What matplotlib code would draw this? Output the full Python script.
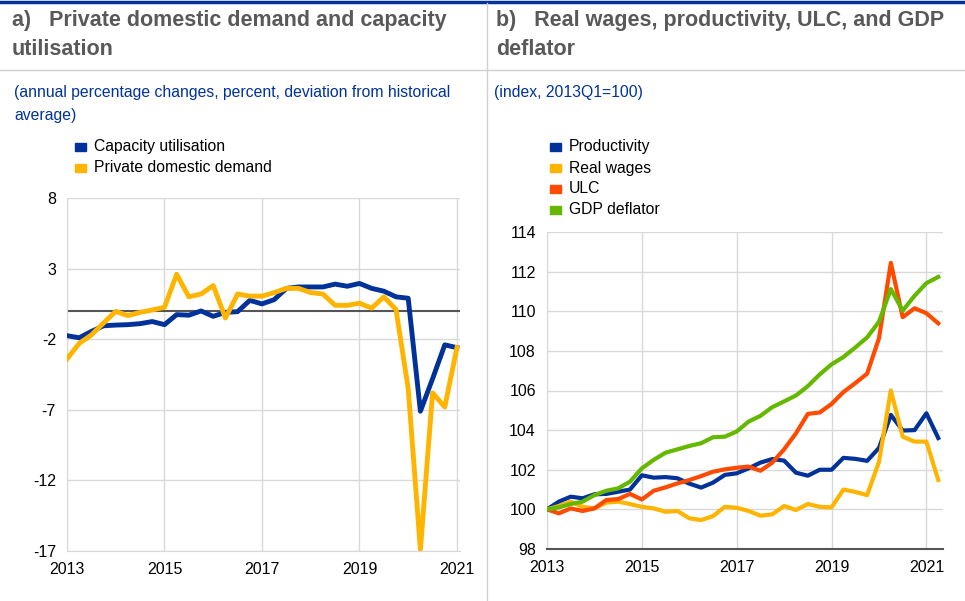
import matplotlib
matplotlib.use('Agg')
import matplotlib.pyplot as plt
import matplotlib.patches as mpatches
import numpy as np

plt.rcParams['font.family'] = ['Liberation Sans', 'DejaVu Sans']
plt.rcParams['axes.unicode_minus'] = False

# Panel a: quarterly, 2013Q1-2021Q1
capacity = [-1.75, -1.9, -1.45, -1.05, -1.0, -0.97, -0.9, -0.75, -0.97, -0.26,
            -0.3, 0.0, -0.38, -0.1, -0.05, 0.75, 0.5, 0.8, 1.6, 1.7,
            1.7, 1.7, 1.9, 1.75, 1.95, 1.6, 1.4, 1.0, 0.9, -7.1,
            -4.8, -2.4, -2.6]
private_demand = [-3.4, -2.3, -1.7, -0.85, -0.03, -0.33, -0.1, 0.07, 0.26, 2.6,
                  1.0, 1.2, 1.8, -0.5, 1.2, 1.05, 1.05, 1.3, 1.6, 1.6,
                  1.3, 1.2, 0.4, 0.4, 0.55, 0.2, 1.0, 0.1, -5.5, -16.9,
                  -5.8, -6.8, -2.6]

# Panel b: quarterly, 2013Q1-2021Q2
productivity = [100.0, 100.39, 100.64, 100.56, 100.76, 100.78, 100.89, 101.0, 101.72, 101.6,
                101.63, 101.57, 101.3, 101.1, 101.35, 101.74, 101.82, 102.07, 102.36, 102.54,
                102.46, 101.85, 101.7, 102.0, 102.0, 102.6, 102.55, 102.45, 103.1, 104.77,
                103.98, 104.0, 104.85, 103.6]
real_wages = [100.0, 100.17, 100.39, 100.13, 100.05, 100.34, 100.39, 100.27, 100.13, 100.05,
              99.88, 99.92, 99.55, 99.46, 99.66, 100.13, 100.08, 99.92, 99.68, 99.75,
              100.17, 99.97, 100.27, 100.13, 100.1, 101.0, 100.88, 100.72, 102.4, 106.0,
              103.67, 103.42, 103.42, 101.48]
ulc = [100.0, 99.8, 100.05, 99.92, 100.05, 100.47, 100.52, 100.78, 100.5, 100.94,
       101.11, 101.31, 101.48, 101.68, 101.9, 102.02, 102.1, 102.16, 101.95, 102.36,
       103.03, 103.84, 104.82, 104.89, 105.32, 105.92, 106.37, 106.85, 108.63, 112.44,
       109.7, 110.15, 109.9, 109.39]
gdp_deflator = [100.0, 100.1, 100.27, 100.39, 100.72, 100.94, 101.06, 101.4, 102.07, 102.5,
                102.86, 103.03, 103.2, 103.34, 103.64, 103.67, 103.93, 104.43, 104.72, 105.16,
                105.45, 105.75, 106.22, 106.81, 107.32, 107.69, 108.17, 108.68, 109.47, 111.12,
                110.03, 110.78, 111.42, 111.73]

years = ['2013', '2015', '2017', '2019', '2021']

BLUE = '#003299'
YELLOW = '#FFB400'
RED = '#FF4B00'
GREEN = '#65B800'
GRID = '#d9d9d9'
TITLE_GRAY = '#595959'

fig = plt.figure(figsize=(9.65, 6.01), dpi=100)

W, H = 965.0, 601.0


def fx(px):
    return px / W


def fy(py):
    return 1 - py / H


# header decorations
fig.add_artist(plt.Line2D([0, 1], [fy(2), fy(2)], color=BLUE, lw=2.5))
fig.add_artist(plt.Line2D([0, 1], [fy(70), fy(70)], color='#d0d0d0', lw=1))
fig.add_artist(plt.Line2D([fx(487), fx(487)], [fy(3), 0], color='#d0d0d0', lw=1))

fig.text(fx(12), fy(10), 'a)   Private domestic demand and capacity\nutilisation',
         fontsize=15.5, fontweight='bold', color=TITLE_GRAY, va='top', linespacing=1.5)
fig.text(fx(496), fy(10), 'b)   Real wages, productivity, ULC, and GDP\ndeflator',
         fontsize=15.5, fontweight='bold', color=TITLE_GRAY, va='top', linespacing=1.5)
fig.text(fx(14), fy(85), '(annual percentage changes, percent, deviation from historical\naverage)',
         fontsize=11.3, color=BLUE, va='top', linespacing=1.7)
fig.text(fx(494), fy(85), '(index, 2013Q1=100)', fontsize=11.3, color=BLUE, va='top')


def legend_item(x, y, color, label):
    fig.add_artist(mpatches.Rectangle((fx(x), fy(y + 4)), 11 / W, 8 / H,
                                      color=color, transform=fig.transFigure))
    fig.text(fx(x + 19), fy(y), label, fontsize=11.3, va='center')


legend_item(75, 147, BLUE, 'Capacity utilisation')
legend_item(75, 168, YELLOW, 'Private domestic demand')
legend_item(550, 147, BLUE, 'Productivity')
legend_item(550, 168, YELLOW, 'Real wages')
legend_item(550, 189, RED, 'ULC')
legend_item(550, 210, GREEN, 'GDP deflator')


def style_axis(ax):
    ax.grid(True, color=GRID, lw=1)
    ax.set_axisbelow(True)
    for s in ['top', 'right']:
        ax.spines[s].set_visible(False)
    ax.spines['left'].set_color(GRID)
    ax.tick_params(length=0, labelsize=11.5, pad=8)


# panel a
ax1 = fig.add_axes([fx(67), fy(551), fx(460) - fx(67), fy(198) - fy(551)])
xa = np.arange(len(capacity))
ax1.axhline(0, color='#555555', lw=1.5, zorder=1)
ax1.plot(xa, capacity, color=BLUE, lw=3.5, zorder=3)
ax1.plot(xa, private_demand, color=YELLOW, lw=3.5, zorder=3)
ax1.set_xlim(0, 32.25)
ax1.set_ylim(-17, 8)
ax1.set_yticks([8, 3, -2, -7, -12, -17])
ax1.set_xticks(np.arange(0, 33, 8))
ax1.set_xticklabels(years)
style_axis(ax1)
ax1.spines['bottom'].set_color(GRID)

# panel b
ax2 = fig.add_axes([fx(547), fy(549), fx(943) - fx(547), fy(232) - fy(549)])
xb = np.arange(len(productivity))
ax2.plot(xb, productivity, color=BLUE, lw=3, zorder=3)
ax2.plot(xb, real_wages, color=YELLOW, lw=3, zorder=3)
ax2.plot(xb, ulc, color=RED, lw=3, zorder=3)
ax2.plot(xb, gdp_deflator, color=GREEN, lw=3, zorder=3)
ax2.set_xlim(0, 33.4)
ax2.set_ylim(98, 114)
ax2.set_yticks(np.arange(98, 115, 2))
ax2.set_xticks(np.arange(0, 34, 8))
ax2.set_xticklabels(years)
style_axis(ax2)
ax2.spines['bottom'].set_color('#555555')
ax2.spines['bottom'].set_linewidth(1.5)

plt.savefig('out.png', dpi=100)
